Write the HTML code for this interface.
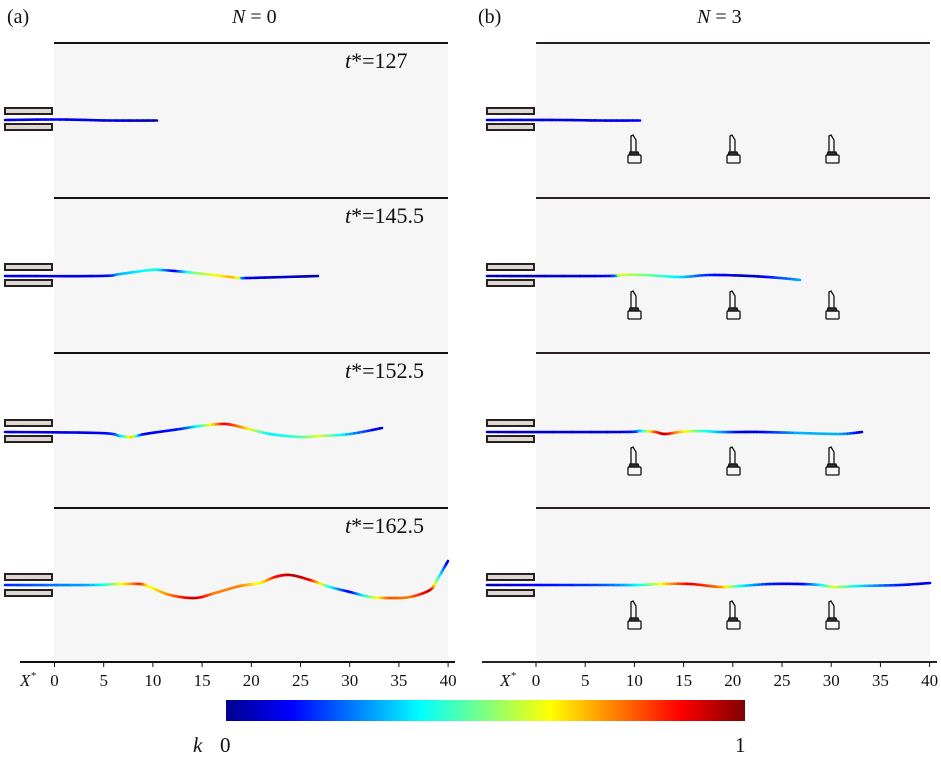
<!DOCTYPE html>
<html><head><meta charset="utf-8"><style>
body{margin:0;background:#fff;width:941px;height:757px;overflow:hidden}
svg text{font-family:"Liberation Serif",serif;fill:#111}
</style></head><body>
<svg id="s" width="941" height="757" xmlns="http://www.w3.org/2000/svg">
<defs>
<linearGradient id="jet" x1="0" x2="1" y1="0" y2="0">
<stop offset="0" stop-color="#00008f"/><stop offset="0.125" stop-color="#0000ff"/>
<stop offset="0.375" stop-color="#00ffff"/><stop offset="0.625" stop-color="#ffff00"/>
<stop offset="0.875" stop-color="#ff0000"/><stop offset="1" stop-color="#800000"/>
</linearGradient>
<g id="obs" fill="none" stroke="#111" stroke-width="1.3">
<path d="M-3,-14 L-3,2 L2,2 L2,-10 L-1,-15 Z"/>
<rect x="-6" y="5" width="13" height="8" rx="1"/>
<path d="M-5,5 L-4,2 L4,2 L5,5 Z" fill="#333"/>
</g>
<g id="noz">
<rect x="5" y="-12" width="47" height="6" fill="#ddd8d4" stroke="#2a2020" stroke-width="2"/>
<rect x="5" y="4" width="47" height="6" fill="#ddd8d4" stroke="#2a2020" stroke-width="2"/>
</g>
</defs>
<rect x="54" y="43" width="394" height="619" fill="#f6f6f6"/>
<rect x="536" y="43" width="394" height="619" fill="#f6f6f6"/>
<g stroke="#111" stroke-width="2">
<line x1="54" y1="43" x2="448" y2="43"/><line x1="54" y1="198" x2="448" y2="198"/>
<line x1="54" y1="353" x2="448" y2="353"/><line x1="54" y1="508" x2="448" y2="508"/>
<line x1="20" y1="662" x2="455" y2="662"/>
</g>
<g stroke="#2a2020" stroke-width="2">
<line x1="536" y1="43" x2="930" y2="43"/><line x1="536" y1="198" x2="930" y2="198"/>
<line x1="536" y1="353" x2="930" y2="353"/><line x1="536" y1="508" x2="930" y2="508"/>
<line x1="482" y1="662" x2="937" y2="662"/>
</g>
<use href="#noz" y="120"/><use href="#noz" y="276"/><use href="#noz" y="432"/><use href="#noz" y="586"/>
<use href="#noz" x="482" y="120"/><use href="#noz" x="482" y="276"/><use href="#noz" x="482" y="432"/><use href="#noz" x="482" y="586"/>
<g id="obsg"></g>
<g id="fib"></g>
<g id="ticks" stroke="#111" stroke-width="1"></g>
<g id="tl" font-size="17"></g>
<text x="7" y="23" font-size="20">(a)</text>
<text x="232" y="23" font-size="20"><tspan font-style="italic">N</tspan> = 0</text>
<text x="478" y="23" font-size="20">(b)</text>
<text x="697" y="23" font-size="20"><tspan font-style="italic">N</tspan> = 3</text>
<text x="345" y="68" font-size="22"><tspan font-style="italic">t</tspan>*=127</text>
<text x="345" y="223" font-size="22"><tspan font-style="italic">t</tspan>*=145.5</text>
<text x="345" y="378" font-size="22"><tspan font-style="italic">t</tspan>*=152.5</text>
<text x="345" y="533" font-size="22"><tspan font-style="italic">t</tspan>*=162.5</text>
<text x="20" y="686" font-size="17" font-style="italic">X<tspan font-size="11" dy="-7">*</tspan></text>
<text x="500" y="686" font-size="17" font-style="italic">X<tspan font-size="11" dy="-7">*</tspan></text>
<rect x="226" y="700" width="519" height="21" fill="url(#jet)"/>
<text x="193" y="752" font-size="21" font-style="italic">k</text>
<text x="220" y="752" font-size="21">0</text>
<text x="735" y="752" font-size="21">1</text>
</svg>
<script>
var NS="http://www.w3.org/2000/svg";
function jet(k){var r=Math.min(4*k-1.5,-4*k+4.5),g=Math.min(4*k-0.5,-4*k+3.5),b=Math.min(4*k+0.5,-4*k+2.5);
function c(v){return Math.round(255*Math.max(0,Math.min(1,v)));}return "rgb("+c(r)+","+c(g)+","+c(b)+")";}
function el(n,a,p){var e=document.createElementNS(NS,n);for(var k in a)e.setAttribute(k,a[k]);p.appendChild(e);return e;}
var fib=document.getElementById("fib");
function cr(p0,p1,p2,p3,t){var t2=t*t,t3=t2*t;return 0.5*((2*p1)+(-p0+p2)*t+(2*p0-5*p1+4*p2-p3)*t2+(-p0+3*p1-3*p2+p3)*t3);}
function fiber(P){var pts=[];for(var i=0;i<P.length-1;i++){var a=P[Math.max(0,i-1)],b=P[i],c=P[i+1],d=P[Math.min(P.length-1,i+2)];
for(var j=0;j<8;j++){var t=j/8;pts.push([cr(a[0],b[0],c[0],d[0],t),cr(a[1],b[1],c[1],d[1],t),b[2]+(c[2]-b[2])*t]);}}
var L=P[P.length-1];pts.push(L);
for(var i=0;i<pts.length-1;i++){el("line",{x1:pts[i][0],y1:pts[i][1],x2:pts[i+1][0],y2:pts[i+1][1],stroke:jet((pts[i][2]+pts[i+1][2])/2),"stroke-width":2.6,"stroke-linecap":"round"},fib);}}
fiber([[5,120,.1],[60,119.5,.12],[110,120.5,.1],[157,120.5,.05]]);
fiber([[5,276,.1],[100,276,.1],[120,274,.3],[150,270,.4],[160,270,.35],[175,271,.1],[195,273,.5],[230,277,.7],[240,278,.6],[250,278,.1],[318,276,.05]]);
fiber([[5,432,.1],[100,433,.1],[120,436,.3],[132,437,.7],[145,434,.1],[180,429,.15],[200,426,.4],[225,424,.9],[245,428,.7],[270,434,.35],[300,437,.45],[320,436,.6],[350,434,.3],[382,428,.05]]);
fiber([[5,585,.15],[90,585,.3],[120,584,.6],[140,584,.85],[150,587,.6],[170,595,.75],[195,598,.95],[215,593,.75],[240,586,.75],[260,583,.6],[275,577,.85],[290,575,.95],[310,580,.9],[330,587,.4],[350,592,.1],[370,597,.5],[390,598,.8],[410,597,.75],[430,590,.95],[437,580,.5],[448,561,.05]]);
fiber([[487,120,.1],[560,120,.1],[600,120.5,.1],[640,120.5,.12]]);
fiber([[487,276,.05],[605,276,.1],[620,275,.6],[645,275,.5],[680,277,.35],[710,275,.15],[750,276,.05],[780,278,.2],[800,280,.3]]);
fiber([[487,432,.05],[620,432,.1],[640,431,.3],[655,432,.8],[665,434,.95],[680,432,.7],[700,431,.45],[720,432,.3],[740,432,.1],[760,432,.1],[800,433,.3],[840,434,.3],[862,432,.05]]);
fiber([[487,585,.05],[600,585,.2],[640,585,.4],[660,584,.6],[690,584,.9],[720,587,.75],[740,586,.4],[770,584,.15],[800,584,.1],[820,585,.35],[835,587,.6],[860,586,.35],[900,585,.15],[930,583,.1]]);
var og=document.getElementById("obsg");
[150,306,462,616].forEach(function(y){[634,733,832].forEach(function(x){el("use",{href:"#obs",x:x,y:y},og);});});
var tk=document.getElementById("ticks"),tl=document.getElementById("tl");
[[54.5,0],[536,1]].forEach(function(o){for(var i=0;i<=8;i++){var x=o[0]+i*49.2;el("line",{x1:x,y1:662,x2:x,y2:667},tk);
var t=el("text",{x:x,y:686,"text-anchor":"middle"},tl);t.textContent=i*5;}});
</script>
</body></html>
